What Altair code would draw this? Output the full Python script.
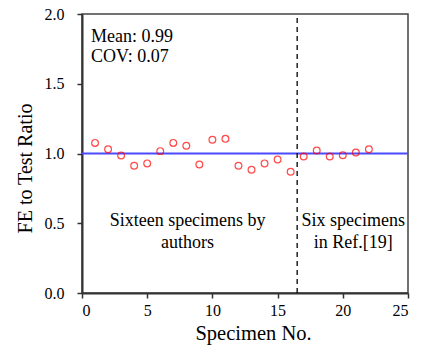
import altair as alt
import pandas as pd

# FE-to-test ratio for each specimen
specimen = list(range(1, 23))
ratio = [1.076, 1.030, 0.986, 0.912, 0.929, 1.017, 1.076, 1.055, 0.921, 1.098,
         1.105, 0.912, 0.884, 0.929, 0.957, 0.869, 0.979, 1.021, 0.979, 0.988,
         1.007, 1.031]

ref_x = [0, 25]
ref_y = [1.0, 1.0]
split_x = 16.5

FONT = "Liberation Serif"

pts = pd.DataFrame({"Specimen": specimen, "Ratio": ratio})
ref = pd.DataFrame({"x": ref_x, "y": ref_y})
split = pd.DataFrame({"x": [split_x], "y0": [0.0], "y1": [2.0]})

xs = alt.Scale(domain=[0, 25], nice=False)
ys = alt.Scale(domain=[0, 2], nice=False)

xax = alt.Axis(values=[0, 5, 10, 15, 20, 25], title="Specimen No.", grid=False,
               titleFontSize=20.5, titleBaseline="alphabetic",
               titleX=171, titleY=46.3, labelPadding=4)
yax = alt.Axis(values=[0, 0.5, 1.0, 1.5, 2.0], format=".1f",
               title="FE to Test Ratio", grid=False, labelPadding=13,
               titleFontSize=20, titleBaseline="middle", titleAlign="center",
               titleAngle=270, titleX=-57, titleY=154)

line = alt.Chart(ref).mark_line(color="#4a4aff", strokeWidth=2).encode(
    x=alt.X("x:Q", scale=xs, axis=xax),
    y=alt.Y("y:Q", scale=ys, axis=yax),
)

divider = alt.Chart(split).mark_rule(color="black", strokeWidth=1.3,
                                     strokeDash=[5, 4]).encode(
    x=alt.X("x:Q", scale=xs),
    y=alt.Y("y0:Q", scale=ys),
    y2="y1:Q",
)

points = alt.Chart(pts).mark_point(shape="circle", filled=False, color="#ff0000",
                                   size=46, strokeWidth=1.2).encode(
    x=alt.X("Specimen:Q", scale=xs),
    y=alt.Y("Ratio:Q", scale=ys),
)

notes = pd.DataFrame({
    "x": [0.69, 0.69, 8.1, 8.1, 20.8, 20.8],
    "y": [1.797, 1.654, 0.482, 0.320, 0.482, 0.320],
    "t": ["Mean: 0.99", "COV: 0.07", "Sixteen specimens by", "authors",
          "Six specimens", "in Ref.[19]"],
    "a": ["left", "left", "center", "center", "center", "center"],
})

left_notes = alt.Chart(notes[notes.a == "left"]).mark_text(
    font=FONT, fontSize=18, align="left", baseline="alphabetic", color="black"
).encode(x=alt.X("x:Q", scale=xs), y=alt.Y("y:Q", scale=ys), text="t:N")

center_notes = alt.Chart(notes[notes.a == "center"]).mark_text(
    font=FONT, fontSize=18, align="center", baseline="alphabetic", color="black"
).encode(x=alt.X("x:Q", scale=xs), y=alt.Y("y:Q", scale=ys), text="t:N")

chart = alt.layer(line, divider, points, left_notes, center_notes).properties(
    width=326, height=279,
    autosize=alt.AutoSizeParams(type="none"),
    padding={"left": 82, "top": 14, "right": 15, "bottom": 54},
).configure_view(
    stroke="#444", strokeWidth=1.5
).configure_axis(
    labelFont=FONT, titleFont=FONT, labelFontSize=16,
    labelColor="black", titleColor="black", titleFontWeight="normal",
    domainColor="#333", domainWidth=2, tickColor="#333", tickWidth=1.5,
    tickSize=5,
)

chart.save("out.html", embed_options={"renderer": "svg", "actions": False})
